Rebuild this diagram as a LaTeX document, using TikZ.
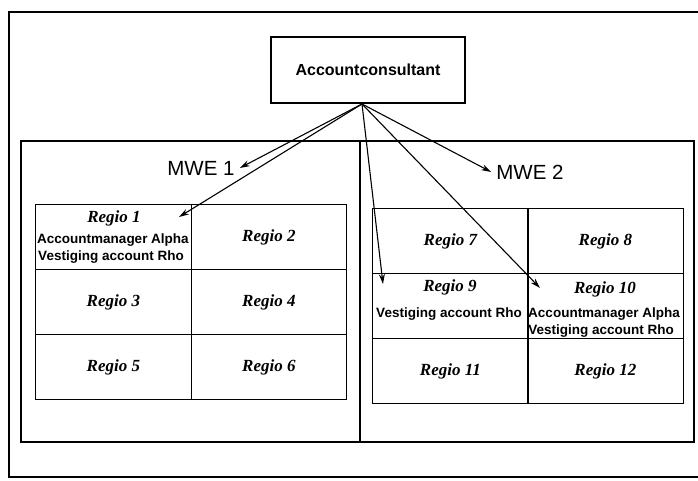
\documentclass[tikz,border=0pt]{standalone}
\usepackage{fontspec}
\setmainfont{Liberation Serif}
\setsansfont{Liberation Sans}
\usetikzlibrary{arrows.meta}

\begin{document}
\begin{tikzpicture}[
    x=1pt, y=-1pt,
    frame/.style = {draw, line width=1.5pt},
    boss/.style = {draw, line width=1.4pt, minimum width=194pt, minimum height=66pt,
        font=\sffamily\bfseries\fontsize{16}{19}\selectfont},
    mwe/.style = {inner sep=5pt, font=\sffamily\fontsize{20.5}{24}\selectfont},
    cell/.style = {draw, line width=1.3pt, anchor=north west, inner sep=0pt,
        minimum width=155.5pt, minimum height=65pt,
        font=\rmfamily\bfseries\itshape\fontsize{17}{20}\selectfont},
    regio/.style = {inner sep=0pt, font=\rmfamily\bfseries\itshape\fontsize{17}{20}\selectfont},
    info/.style = {inner sep=0pt, font=\sffamily\bfseries\fontsize{13.5}{16}\selectfont},
    link/.style = {-{Stealth[length=10pt,width=6pt]}, line width=1.1pt}
    ]
    \useasboundingbox (0,0) rectangle (698,481);
    \draw[frame] (9,12) rectangle (712,477);
    \draw[frame] (21,141) rectangle (694,442);
    \draw[frame] (360,141) -- (360,442);

    \node[boss] (ac) at (368,70) {Accountconsultant};
    \node[mwe] (mwe1) at (201,168) {MWE 1};
    \node[mwe] (mwe2) at (530,172) {MWE 2};

    \node[cell] (r1) at (35,204) {};
    \node[cell] (r2) at (190.5,204) {Regio 2};
    \node[cell] (r3) at (35,269) {Regio 3};
    \node[cell] (r4) at (190.5,269) {Regio 4};
    \node[cell] (r5) at (35,334) {Regio 5};
    \node[cell] (r6) at (190.5,334) {Regio 6};

    \node[cell] (r7) at (372,208) {Regio 7};
    \node[cell] (r8) at (527,208) {Regio 8};
    \node[cell] (r9) at (372,273) {};
    \node[cell] (r10) at (527,273) {};
    \node[cell] (r11) at (372,338) {Regio 11};
    \node[cell] (r12) at (527,338) {Regio 12};

    \node[regio] (reg1) at (114,218) {Regio 1};
    \node[info] (am1) at (113,240) {Accountmanager Alpha};
    \node[info] (vr1) at (111,257) {Vestiging account Rho};
    \node[regio] (reg9) at (450,287) {Regio 9};
    \node[info] (vr9) at (449,314) {Vestiging account Rho};
    \node[regio] (reg10) at (605,289) {Regio 10};
    \node[info] (am10) at (604,314) {Accountmanager Alpha};
    \node[info] (vr10) at (601,331) {Vestiging account Rho};

    \coordinate (src) at (362,104);
    \coordinate (t1) at (179,217);
    \coordinate (t9) at (383,284);
    \coordinate (t10) at (540,288);

    \path[link] (src) edge (mwe1.east);
    \path[link] (src) edge (t1);
    \path[link] (src) edge (t9);
    \path[link] (src) edge (t10);
    \path[link] (src) edge (mwe2.west);
\end{tikzpicture}
\end{document}
